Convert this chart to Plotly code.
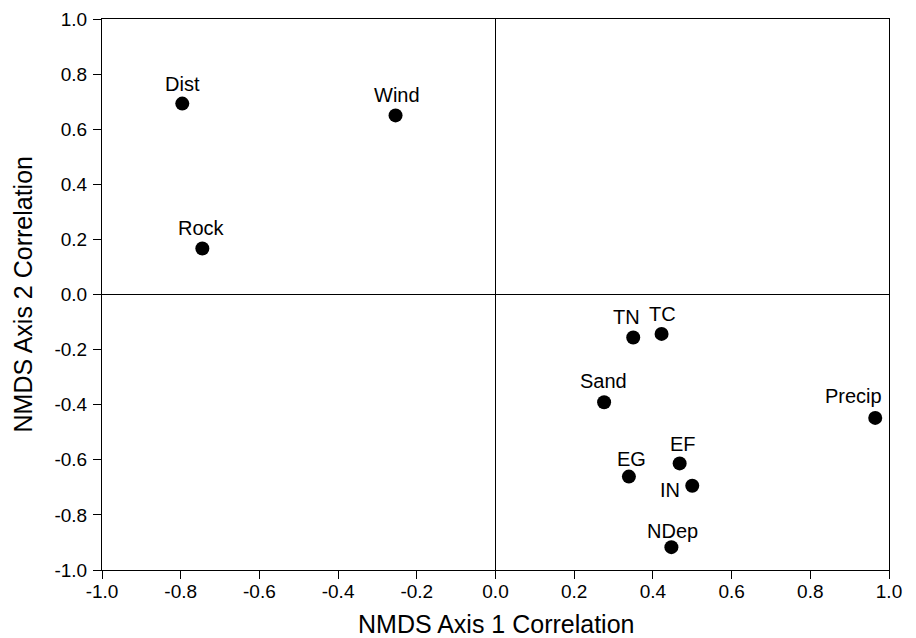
import plotly.graph_objects as go

# Data
variables = ["Dist", "Wind", "Rock", "TN", "TC", "Sand", "Precip", "EF", "EG", "IN", "NDep"]
axis1 = [-0.796, -0.254, -0.745, 0.350, 0.422, 0.276, 0.965, 0.468, 0.339, 0.500, 0.447]
axis2 = [0.693, 0.650, 0.167, -0.156, -0.143, -0.391, -0.448, -0.613, -0.661, -0.694, -0.917]
tick_vals = [-1.0, -0.8, -0.6, -0.4, -0.2, 0.0, 0.2, 0.4, 0.6, 0.8, 1.0]
tick_text = ["-1.0", "-0.8", "-0.6", "-0.4", "-0.2", "0.0", "0.2", "0.4", "0.6", "0.8", "1.0"]
x_title = "NMDS Axis 1 Correlation"
y_title = "NMDS Axis 2 Correlation"

# label offsets in pixels (style)
label_offsets = {
    "Dist": (0, 20), "Wind": (1, 20), "Rock": (-1, 20), "TN": (-7, 20),
    "TC": (1, 20), "Sand": (-1, 21), "Precip": (-22, 22), "EF": (3, 19),
    "EG": (3, 18), "IN": (-22, -4), "NDep": (1, 16.5),
}

FONT = "Arial, Liberation Sans, sans-serif"

fig = go.Figure()
fig.add_trace(go.Scatter(
    x=axis1, y=axis2, mode="markers",
    marker=dict(size=14, color="black"),
    hoverinfo="skip", showlegend=False,
))

for name, xv, yv in zip(variables, axis1, axis2):
    dx, dy = label_offsets[name]
    fig.add_annotation(
        x=xv, y=yv, xref="x", yref="y", text=name, showarrow=False,
        xanchor="center", yanchor="middle", xshift=dx, yshift=dy,
        font=dict(family=FONT, size=20, color="black"),
    )

# axis titles
fig.add_annotation(
    x=0.5, y=0, xref="paper", yref="paper", text=x_title, showarrow=False,
    xanchor="center", yanchor="middle", yshift=-54,
    font=dict(family=FONT, size=25, color="black"),
)
fig.add_annotation(
    x=0, y=0.5, xref="paper", yref="paper", text=y_title, showarrow=False,
    xanchor="center", yanchor="middle", xshift=-80, textangle=-90,
    font=dict(family=FONT, size=25, color="black"),
)

axis_common = dict(
    range=[-1.0, 1.0], tickmode="array", tickvals=tick_vals, ticktext=tick_text,
    ticks="outside", ticklen=8, tickwidth=1, tickcolor="black",
    showline=True, linecolor="black", linewidth=1, mirror=True,
    showgrid=False, zeroline=True, zerolinecolor="black", zerolinewidth=1,
    tickfont=dict(family=FONT, size=19, color="black"),
    automargin=False,
)

fig.update_layout(
    width=908, height=630,
    margin=dict(l=94, r=27, t=11, b=68),
    paper_bgcolor="white", plot_bgcolor="white",
    xaxis=dict(**axis_common, ticklabelstandoff=-4),
    yaxis=dict(**axis_common, ticklabelstandoff=2),
)

fig.write_html("out.html")
